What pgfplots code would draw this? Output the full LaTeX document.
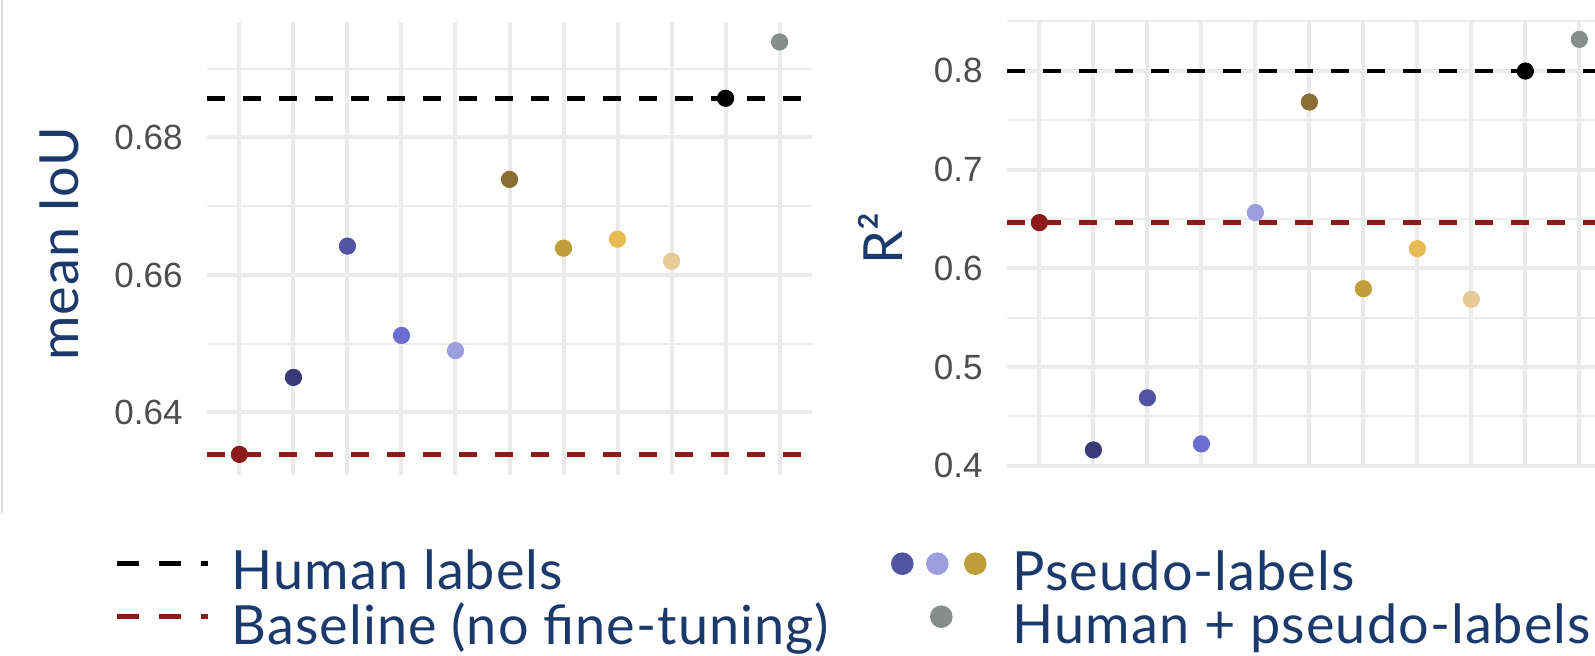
\documentclass[border=0pt]{standalone}
\usepackage{fontspec}
\setmainfont{Lato}[LetterSpace=2]
\newfontfamily\tickfont{Liberation Sans}
\usepackage{pgfplots}
\usepackage{pgfplotstable}
\pgfplotsset{compat=1.18}

\definecolor{cRed}{HTML}{8B1A1A}
\definecolor{cNavy}{HTML}{393B79}
\definecolor{cBlue}{HTML}{5254A3}
\definecolor{cMid}{HTML}{6B6ECF}
\definecolor{cLight}{HTML}{9C9EDE}
\definecolor{cBrown}{HTML}{8C6D31}
\definecolor{cOlive}{HTML}{BD9E39}
\definecolor{cGold}{HTML}{E7BA52}
\definecolor{cSand}{HTML}{E7CB94}
\definecolor{cGrey}{HTML}{868E8B}
\definecolor{gridc}{HTML}{EBEBEB}
\definecolor{tickc}{HTML}{4D4D4D}
\definecolor{textc}{HTML}{1B3A6B}

\pgfplotstableread{
x y c
0 0.6339 r
1 0.6451 n
2 0.6642 b
3 0.6512 m
4 0.6490 l
5 0.6739 w
6 0.6639 o
7 0.6652 g
8 0.6620 y
9 0.6857 k
10 0.6939 s
}\miou

\pgfplotstableread{
x y c
0 0.6462 r
1 0.4160 n
2 0.4688 b
3 0.4221 m
4 0.6564 l
5 0.7683 w
6 0.5793 o
7 0.6199 g
8 0.5685 y
9 0.7997 k
10 0.8318 s
}\rsq

\pgfplotsset{
  panel/.style={
    scale only axis,
    axis line style={draw=none},
    tick style={draw=none},
    xtick={0,...,10},
    xticklabels={},
    xmajorgrids, ymajorgrids, yminorgrids,
    major grid style={color=gridc, line width=2pt},
    minor grid style={color=gridc, line width=1pt},
    yticklabel style={font=\tickfont\fontsize{17.5}{20}\selectfont, text=tickc, anchor=east, inner sep=0pt, xshift=-12pt},
    legend style={draw=none, fill=none, inner sep=0pt, outer sep=0pt,
      font=\fontsize{27}{32}\selectfont, text=textc,
      row sep={26.5pt,between origins},
      nodes={inner sep=0pt}},
    legend cell align=left,
  },
  pts/.style={only marks, scatter, scatter src=explicit symbolic, mark=*, mark size=4.1pt,
    scatter/classes={
      r={mark=*,cRed}, n={mark=*,cNavy}, b={mark=*,cBlue}, m={mark=*,cMid},
      l={mark=*,cLight}, w={mark=*,cBrown}, o={mark=*,cOlive}, g={mark=*,cGold},
      y={mark=*,cSand}, k={mark=*,black}, s={mark=*,cGrey}}},
  dash/.style={line width=2.25pt, dash pattern=on 9pt off 9pt, forget plot},
}

\begin{document}
\begin{tikzpicture}
\useasboundingbox (0,0) rectangle (797.5pt,327.5pt);
\draw[color=black!14, line width=1pt] (1pt,71pt) -- (1pt,327.5pt);

% left panel: mean IoU
\begin{axis}[panel,
  at={(103.5pt,90pt)}, anchor=south west,
  width=302.5pt, height=226.5pt,
  xmin=-0.6, xmax=10.6, ymin=0.6309, ymax=0.6968,
  ytick={0.64,0.66,0.68}, yticklabels={0.64,0.66,0.68},
  minor ytick={0.65,0.67,0.69},
  legend style={at={(axis description cs:-0.1537,-0.166)}, anchor=north west,
    /tikz/every odd column/.style={column sep=10.5pt}},
]
\addlegendimage{legend image code/.code={
  \path[draw=none, fill=none] (0pt,-4pt) rectangle (45.5pt,4pt);
  \draw[black, line width=2.85pt, dash pattern=on 11pt off 10pt] (0pt,4pt) -- (45.5pt,4pt);}}
\addlegendentry{Human labels}
\addlegendimage{legend image code/.code={
  \path[draw=none, fill=none] (0pt,-4pt) rectangle (45.5pt,4pt);
  \draw[cRed, line width=2.85pt, dash pattern=on 11pt off 10pt] (0pt,4pt) -- (45.5pt,4pt);}}
\addlegendentry{Baseline (no fine-tuning)}
\addplot[dash, black] coordinates {(-0.6,0.6857) (10.6,0.6857)};
\addplot[dash, cRed] coordinates {(-0.6,0.6339) (10.6,0.6339)};
\addplot[pts, forget plot] table[x=x, y=y, meta=c] {\miou};
\end{axis}
\node[rotate=90, anchor=base, text=textc, font=\fontsize{27}{32}\selectfont, inner sep=0pt] at (39.5pt,205.5pt) {mean IoU};

% right panel: R2
\begin{axis}[panel,
  at={(503.5pt,93.5pt)}, anchor=south west,
  width=294pt, height=223.65pt,
  xmin=-0.6, xmax=10.29, ymin=0.3977, ymax=0.8507,
  ytick={0.4,0.5,0.6,0.7,0.8}, yticklabels={0.4,0.5,0.6,0.7,0.8},
  minor ytick={0.45,0.55,0.65,0.75,0.85},
  legend style={at={(axis description cs:-0.1973,-0.184)}, anchor=north west,
    /tikz/every odd column/.style={column sep=13pt}},
]
\addlegendimage{legend image code/.code={
  \path[draw=none, fill=none] (0pt,-6pt) rectangle (47.5pt,6pt);
  \fill[cBlue, draw=none] (5.5pt,4pt) circle (5.65pt);
  \fill[cLight, draw=none] (23pt,4pt) circle (5.65pt);
  \fill[cOlive, draw=none] (42pt,4pt) circle (5.65pt);}}
\addlegendentry{Pseudo-labels}
\addlegendimage{legend image code/.code={
  \path[draw=none, fill=none] (0pt,-6pt) rectangle (47.5pt,6pt);
  \fill[cGrey, draw=none] (25pt,4pt) circle (5.65pt);}}
\addlegendentry{Human + pseudo-labels}
\addplot[dash, black] coordinates {(-0.6,0.7997) (10.29,0.7997)};
\addplot[dash, cRed] coordinates {(-0.6,0.6465) (10.29,0.6465)};
\addplot[pts, forget plot] table[x=x, y=y, meta=c] {\rsq};
\end{axis}
\node[rotate=90, anchor=base, text=textc, font=\fontsize{27}{32}\selectfont, inner sep=0pt] at (451pt,208.25pt) {R²};
\end{tikzpicture}
\end{document}
